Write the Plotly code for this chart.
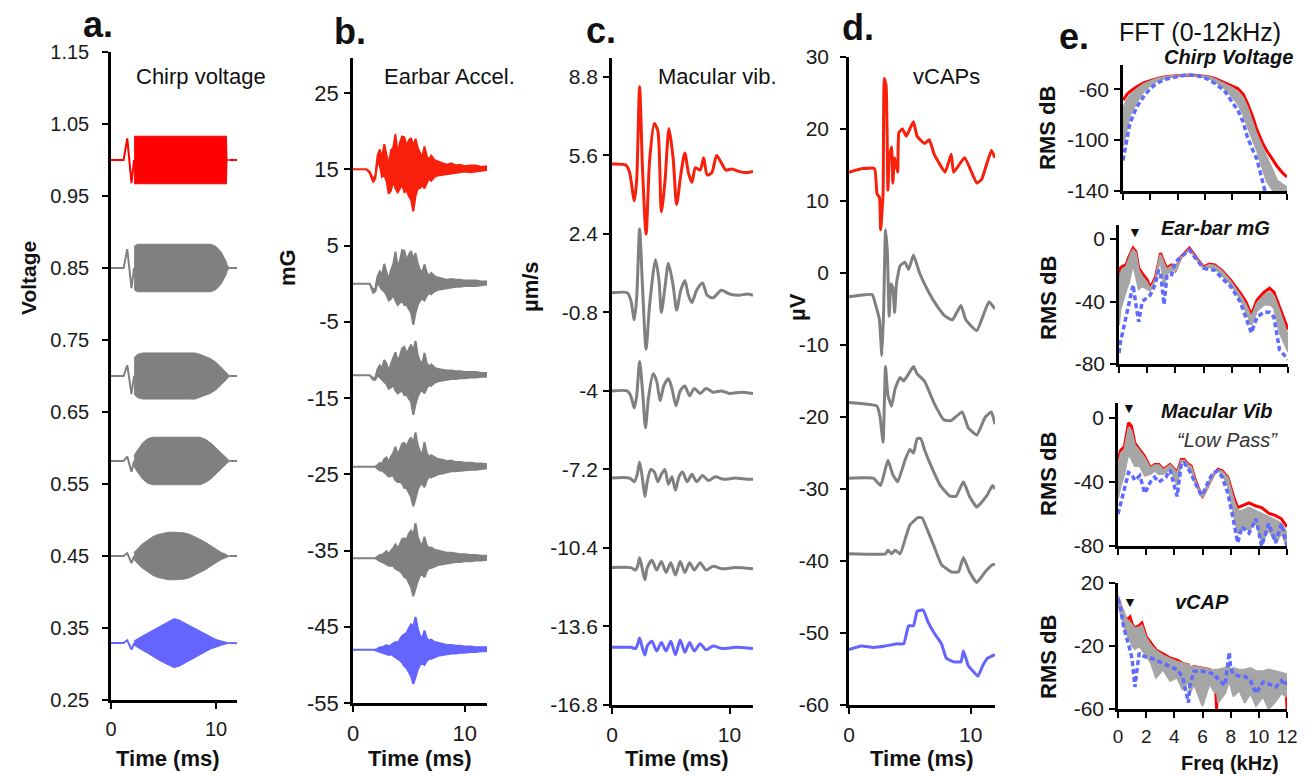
import plotly.graph_objects as go

W, H = 1314, 777
FONT = "Liberation Sans, Arial, sans-serif"
RED, GRAY, BLUE = "#FF0000", "#808080", "#6464FF"
RED2 = "#F8200A"

# ---------------- a. Chirp voltage (envelope of the dense chirp) ----------------
CHIRP_OFFSETS = [1.0, 0.85, 0.70, 0.582, 0.45, 0.329]
CHIRP_T = [2.2, 2.5, 3.0, 3.5, 4.0, 4.5, 5.0, 5.5, 6.0, 6.5, 7.0, 7.5, 8.0, 8.5,
           9.0, 9.5, 10.0, 10.5, 11.0, 11.05, 11.3]
CHIRP_ENV_RED = [0.033, 0.033, 0.033, 0.033, 0.033, 0.033, 0.033, 0.033, 0.033, 0.033, 0.033,
                 0.033, 0.033, 0.033, 0.033, 0.033, 0.033, 0.033, 0.033, 0.0, 0.0]
CHIRP_ENV_G1 = [0.03, 0.033, 0.033, 0.033, 0.033, 0.033, 0.033, 0.033, 0.033, 0.033, 0.033,
                0.033, 0.033, 0.033, 0.033, 0.033, 0.03, 0.022, 0.008, 0.004, 0.0]
CHIRP_ENV_G2 = [0.025, 0.03, 0.032, 0.032, 0.032, 0.032, 0.032, 0.032, 0.032, 0.032, 0.032,
                0.032, 0.032, 0.03, 0.027, 0.024, 0.019, 0.012, 0.005, 0.004, 0.0]
CHIRP_ENV_G3 = [0.008, 0.015, 0.025, 0.031, 0.033, 0.033, 0.033, 0.033, 0.033, 0.033, 0.033,
                0.033, 0.033, 0.033, 0.03, 0.025, 0.018, 0.011, 0.004, 0.003, 0.0]
CHIRP_ENV_G4 = [0.005, 0.01, 0.017, 0.022, 0.027, 0.03, 0.032, 0.033, 0.033, 0.033, 0.032,
                0.03, 0.027, 0.023, 0.019, 0.014, 0.009, 0.005, 0.002, 0.001, 0.0]
CHIRP_ENV_BLUE = [0.003, 0.006, 0.01, 0.014, 0.018, 0.023, 0.027, 0.031, 0.034, 0.032, 0.028,
                  0.024, 0.02, 0.016, 0.012, 0.008, 0.005, 0.003, 0.001, 0.001, 0.0]
CHIRP_LEAD_T = [0.0, 1.2, 1.55, 1.95, 2.2]
CHIRP_LEAD_RED = [0.0, 0.0, 0.03, -0.032, 0.0]
CHIRP_LEAD_G1 = [0.0, 0.0, 0.026, -0.028, 0.0]
CHIRP_LEAD_G2 = [0.0, 0.0, 0.015, -0.025, 0.0]
CHIRP_LEAD_G3 = [0.0, 0.0, 0.006, -0.015, 0.0]
CHIRP_LEAD_G4 = [0.0, 0.0, 0.004, -0.01, 0.0]
CHIRP_LEAD_BLUE = [0.0, 0.0, 0.004, -0.009, 0.0]

# ---------------- b. Earbar acceleration (upper / lower excursions) ----------------
EARBAR_OFFSETS = [15, 0, -12, -24, -36, -48]
EARBAR_T = [0, 1.2, 1.5, 1.8, 2.0, 2.2, 2.4, 2.6, 2.8, 3.0, 3.2, 3.4, 3.6, 3.8, 4.0, 4.2,
            4.4, 4.6, 4.8, 5.0, 5.2, 5.4, 5.6, 5.8, 6.0, 6.2, 6.4, 6.6, 6.8, 7.0, 7.3, 7.6,
            8.0, 8.4, 8.8, 9.2, 9.6, 10.0, 10.5, 11.0, 11.5, 12.0]
EARBAR_RED_HI = [0, 0, -0.3, -1.3, -0.8, 1.8, 2.6, 1.5, 3.3, 2.0, 0.5, 2.5, 2.8, 4.6, 2.0, 3.5,
                 4.3, 4.2, 3.0, 3.8, 4.1, 3.0, 4.0, 2.8, 2.2, 1.5, 3.0, 1.8, 1.2, 1.8, 1.2, 1.0,
                 0.8, 0.6, 0.8, 0.5, 0.6, 0.4, 0.5, 0.5, 0.3, 0.4]
EARBAR_RED_LO = [0, 0, -0.5, -1.7, -1.2, 1.0, 0.5, -1.0, -0.8, -1.5, -3.2, -2.8, -1.5, -2.5,
                 -3.0, -2.5, -2.0, -3.0, -2.8, -3.5, -4.0, -5.5, -3.5, -2.5, -2.5, -2.0, -2.5,
                 -1.8, -1.2, -1.5, -1.0, -0.8, -0.7, -0.6, -0.5, -0.4, -0.4, -0.3, -0.4, -0.3,
                 -0.2, -0.1]
EARBAR_G1_HI = [0, 0, 0, -0.8, -0.6, 1.0, 1.6, 1.2, 2.6, 1.5, 0.5, 1.8, 2.5, 4.2, 2.2, 3.0,
                4.4, 4.3, 3.0, 3.8, 4.3, 3.2, 4.0, 2.6, 1.8, 1.5, 2.5, 1.5, 1.0, 1.4, 1.0, 0.8,
                0.7, 0.5, 0.6, 0.5, 0.5, 0.4, 0.4, 0.4, 0.3, 0.3]
EARBAR_G1_LO = [0, 0, 0, -1.2, -1.0, 0.2, -0.3, -0.8, -1.0, -1.5, -2.2, -2.0, -1.5, -2.2,
                -2.8, -2.5, -2.2, -2.8, -2.8, -3.3, -3.8, -5.4, -3.8, -2.8, -2.2, -2.0, -2.2,
                -1.6, -1.2, -1.4, -1.0, -0.8, -0.7, -0.6, -0.5, -0.4, -0.4, -0.3, -0.3, -0.3,
                -0.2, -0.1]
EARBAR_G2_HI = [0, 0, 0, -0.4, -0.3, 0.8, 1.3, 0.9, 2.0, 1.5, 0.5, 1.5, 2.2, 3.0, 1.8, 2.5,
                3.5, 3.7, 2.8, 3.5, 4.0, 3.2, 4.5, 2.6, 1.8, 1.5, 2.9, 1.6, 1.1, 1.4, 1.0, 0.8,
                0.7, 0.6, 0.6, 0.5, 0.5, 0.4, 0.4, 0.4, 0.3, 0.3]
EARBAR_G2_LO = [0, 0, 0, -0.6, -0.6, 0.0, -0.4, -0.6, -0.9, -1.2, -1.8, -1.6, -1.3, -2.0,
                -2.4, -2.2, -2.0, -2.6, -2.6, -3.0, -3.5, -5.2, -3.8, -2.8, -2.2, -2.0, -2.4,
                -1.7, -1.3, -1.4, -1.0, -0.8, -0.7, -0.6, -0.5, -0.5, -0.4, -0.4, -0.3, -0.3,
                -0.2, -0.2]
EARBAR_G3_HI = [0, 0, 0, 0, 0, 0.2, 0.5, 0.4, 1.0, 1.2, 0.6, 1.3, 1.8, 2.6, 1.6, 2.2, 3.0,
                3.1, 2.6, 3.4, 3.8, 3.0, 4.5, 2.8, 2.0, 1.6, 3.2, 1.8, 1.3, 1.5, 1.2, 1.0, 0.9,
                0.7, 0.8, 0.6, 0.6, 0.5, 0.5, 0.4, 0.4, 0.3]
EARBAR_G3_LO = [0, 0, 0, 0, 0, -0.2, -0.5, -0.5, -0.8, -1.0, -1.3, -1.2, -1.2, -1.8, -2.0,
                -2.0, -2.2, -2.8, -2.8, -3.3, -4.0, -5.2, -4.2, -3.0, -2.4, -2.2, -2.7, -1.8,
                -1.3, -1.4, -1.2, -1.0, -0.9, -0.7, -0.6, -0.6, -0.5, -0.5, -0.4, -0.4, -0.3,
                -0.2]
EARBAR_G4_HI = [0, 0, 0, 0, 0, 0.2, 0.4, 0.4, 0.7, 0.9, 0.5, 1.0, 1.3, 1.8, 1.3, 1.8, 2.5,
                2.6, 2.4, 3.2, 3.6, 3.0, 4.6, 2.8, 2.0, 1.6, 2.8, 1.7, 1.3, 1.4, 1.1, 1.0, 0.8,
                0.7, 0.7, 0.6, 0.5, 0.5, 0.4, 0.4, 0.3, 0.3]
EARBAR_G4_LO = [0, 0, 0, 0, 0, -0.2, -0.4, -0.5, -0.6, -0.8, -1.0, -1.0, -1.0, -1.4, -1.6,
                -1.7, -2.0, -2.5, -2.6, -3.2, -3.8, -5.0, -4.0, -3.0, -2.3, -2.1, -2.5, -1.7,
                -1.3, -1.3, -1.1, -0.9, -0.8, -0.7, -0.6, -0.5, -0.5, -0.4, -0.4, -0.3, -0.3,
                -0.2]
EARBAR_BLUE_HI = [0, 0, 0, 0, 0, 0.1, 0.3, 0.3, 0.5, 0.6, 0.4, 0.6, 0.8, 1.0, 0.9, 1.4, 1.8,
                  2.0, 2.2, 2.8, 3.3, 3.0, 4.3, 2.8, 1.8, 1.5, 2.5, 1.5, 1.2, 1.3, 1.0, 0.9,
                  0.7, 0.6, 0.6, 0.5, 0.5, 0.4, 0.4, 0.3, 0.3, 0.3]
EARBAR_BLUE_LO = [0, 0, 0, 0, 0, -0.1, -0.3, -0.3, -0.5, -0.6, -0.7, -0.6, -0.7, -1.0, -1.2,
                  -1.4, -1.7, -2.2, -2.4, -2.9, -3.5, -4.5, -3.6, -2.6, -2.0, -1.8, -2.0,
                  -1.5, -1.2, -1.2, -1.0, -0.8, -0.7, -0.6, -0.5, -0.5, -0.4, -0.4, -0.3,
                  -0.3, -0.2, -0.2]

# ---------------- c. Macular vibration (µm/s) ----------------
MAC_RED_T = [0, 1.2, 1.5, 1.9, 2.1, 2.35, 2.6, 2.9, 3.2, 3.6, 3.9, 4.2, 4.5, 4.85, 5.2, 5.5,
             5.85, 6.2, 6.5, 6.8, 7.1, 7.5, 7.8, 8.1, 8.5, 8.9, 9.3, 9.7, 10.2, 10.8, 11.4, 12.0]
MAC_RED_V = [5.25, 5.2, 4.9, 3.75, 4.6, 8.4, 5.0, 2.4, 5.4, 6.9, 6.6, 3.3, 4.5, 6.7, 5.5,
             3.6, 4.8, 5.7, 4.9, 4.5, 5.1, 5.0, 5.5, 4.8, 4.9, 5.6, 5.3, 5.0, 5.05, 4.95,
             4.9, 4.95]
MAC_G1_T = [0, 1.3, 1.6, 1.9, 2.1, 2.35, 2.6, 2.9, 3.2, 3.7, 4.0, 4.2, 4.5, 4.8, 5.2, 5.5,
            5.85, 6.2, 6.5, 6.8, 7.2, 7.7, 8.1, 8.6, 9.3, 10.0, 10.8, 11.5, 12.0]
MAC_G1_V = [0, 0, -0.3, -1.1, -0.2, 2.6, 0.2, -2.3, -0.5, 1.35, 0.5, -0.8, 0.2, 1.2, 0.3,
            -0.7, 0.1, 0.5, -0.1, -0.4, 0.1, 0.4, -0.1, -0.2, 0.1, -0.05, -0.1, -0.05, -0.1]
MAC_G2_T = [0, 1.3, 1.6, 1.9, 2.1, 2.35, 2.6, 2.85, 3.1, 3.5, 3.8, 4.1, 4.4, 4.8, 5.1, 5.45,
            5.8, 6.2, 6.6, 7.0, 7.5, 8.0, 8.6, 9.3, 10.0, 11.0, 12.0]
MAC_G2_V = [-4, -4, -4.2, -4.7, -4.2, -2.8, -4.0, -5.5, -4.3, -3.3, -3.6, -4.4, -3.8, -3.5,
            -3.9, -4.6, -4.0, -3.8, -4.2, -3.9, -4.1, -3.9, -4.05, -4.0, -4.1, -4.05, -4.1]
MAC_G3_T = [0, 1.5, 1.9, 2.15, 2.35, 2.6, 2.8, 3.0, 3.3, 3.6, 3.9, 4.2, 4.5, 4.8, 5.1, 5.4,
            5.7, 6.0, 6.4, 6.8, 7.2, 7.7, 8.2, 8.8, 9.5, 10.5, 11.5, 12.0]
MAC_G3_V = [-7.55, -7.55, -7.7, -7.4, -6.9, -7.6, -8.3, -7.7, -7.2, -7.3, -7.7, -7.4, -7.2,
            -7.8, -7.5, -8.05, -7.5, -7.3, -7.7, -7.4, -7.7, -7.45, -7.65, -7.5, -7.6, -7.55,
            -7.6, -7.6]
MAC_G4_T = [0, 1.6, 2.0, 2.2, 2.35, 2.6, 2.8, 3.0, 3.4, 3.8, 4.2, 4.6, 5.0, 5.4, 5.8, 6.2,
            6.6, 7.0, 7.5, 8.0, 8.6, 9.4, 10.5, 12.0]
MAC_G4_V = [-11.2, -11.2, -11.3, -11.1, -10.8, -11.3, -11.7, -11.2, -10.9, -11.3, -10.95,
            -11.4, -11.0, -11.5, -10.95, -11.4, -11.0, -11.3, -11.0, -11.3, -11.15, -11.25,
            -11.2, -11.25]
MAC_BLUE_T = [0, 1.6, 2.0, 2.2, 2.35, 2.6, 2.8, 3.0, 3.4, 3.8, 4.2, 4.6, 5.0, 5.4, 5.8, 6.2,
              6.6, 7.0, 7.5, 8.0, 8.6, 9.4, 10.5, 12.0]
MAC_BLUE_V = [-14.45, -14.45, -14.5, -14.3, -14.07, -14.5, -14.76, -14.4, -14.2, -14.6,
              -14.25, -14.6, -14.2, -14.75, -14.15, -14.65, -14.25, -14.6, -14.3, -14.55,
              -14.4, -14.5, -14.45, -14.5]

# ---------------- d. vCAPs (µV) ----------------
VCAP_RED_T = [0, 1.15, 2.1, 2.3, 2.5, 2.6, 2.8, 2.9, 3.05, 3.2, 3.3, 3.5, 3.6, 3.75, 4.0,
              4.1, 4.4, 4.7, 5.0, 5.3, 5.6, 6.2, 6.6, 7.0, 7.9, 8.4, 8.6, 9.5, 10.5, 10.9,
              11.7, 12.0]
VCAP_RED_V = [14, 14.5, 14.5, 11, 10.5, 6, 11, 27, 26, 11.5, 16, 17.5, 12.5, 16, 14, 19.5,
              20, 19, 20, 21, 19, 18, 18.5, 16.5, 14, 16.5, 14, 16, 12.5, 13, 17, 16]
VCAP_G1_T = [0, 1.9, 2.2, 2.5, 2.7, 2.85, 3.0, 3.15, 3.3, 3.45, 3.6, 3.75, 3.9, 4.2, 4.6,
             4.9, 5.3, 5.8, 6.5, 7.2, 7.9, 8.5, 9.2, 9.6, 10.5, 11.5, 12.0]
VCAP_G1_V = [-3.3, -3.0, -4.5, -6.5, -11.5, -5, 6, 3, -6, -1.5, -2, -5.5, -1.5, 1, 1.5,
             0.5, 2.5, 0, -2.5, -4.5, -6, -6.5, -4.5, -6.5, -8, -4, -5]
VCAP_G2_T = [0, 2.3, 2.55, 2.8, 3.0, 3.2, 3.5, 3.8, 4.2, 4.5, 4.9, 5.3, 5.6, 6.2, 7.0,
             7.8, 8.4, 9.3, 9.8, 10.5, 11.2, 11.7, 12.0]
VCAP_G2_V = [-18, -18.5, -20, -23.5, -13, -17, -18.5, -16, -14.5, -15, -14, -13, -14, -15,
             -18.1, -20.4, -20.5, -19.3, -21.5, -22.5, -20, -19.3, -21]
VCAP_G3_T = [0, 2.0, 2.6, 3.2, 3.6, 4.0, 4.6, 5.0, 5.3, 5.6, 5.9, 6.2, 6.8, 7.5, 8.3, 8.8,
             9.4, 9.9, 10.5, 11.3, 11.8, 12.0]
VCAP_G3_V = [-28.5, -28.5, -29.5, -26, -28, -29, -26, -24.5, -25, -23, -23, -24.5, -27,
             -29.5, -31, -31, -29, -31, -32.5, -31, -29.5, -30]
VCAP_G4_T = [0, 3.0, 3.2, 3.5, 3.8, 4.2, 4.7, 5.0, 5.3, 5.6, 6.0, 6.4, 7.0, 7.6, 8.4, 9.0,
             9.4, 9.9, 10.5, 11.2, 11.8, 12.0]
VCAP_G4_V = [-39, -39, -38.5, -39, -38.5, -39, -36.5, -35, -34.5, -34, -34, -35.5, -38,
             -40.5, -41.5, -41.5, -39.5, -41.5, -43, -41.5, -40.5, -40.5]
VCAP_BLUE_T = [0, 1.0, 2.0, 3.0, 4.0, 4.5, 4.9, 5.3, 5.6, 6.1, 6.5, 7.0, 7.6, 8.0, 8.6, 9.2,
               9.4, 9.8, 10.3, 10.6, 11.0, 11.4, 12.0]
VCAP_BLUE_V = [-52.3, -51.8, -52, -51.8, -51.5, -51.5, -49, -49, -47, -46.8, -48.5, -50,
               -51.5, -53.5, -54, -54, -52.5, -54.5, -55.5, -56, -54.5, -53.5, -53]

# ---------------- e. FFT spectra (dB) ----------------
FFT1_F = [0, 0.3, 0.5, 1.0, 1.5, 2.0, 2.5, 3.2, 4.0, 4.5, 5.0, 5.5, 6.2, 6.8, 7.4, 8.0, 8.4,
          8.8, 9.1, 9.5, 9.8, 10.2, 10.5, 11.0, 11.3, 11.7, 12.0]
FFT1_RED = [-68.6, -64, -62, -58, -55, -53, -51.5, -50, -49.2, -49, -49, -49.2, -50, -52,
            -54.5, -57.5, -59.5, -64, -71, -82, -92, -102, -108, -116, -121, -126, -129]
FFT1_GRAY_HI = [-75, -68, -65, -60, -56, -53.5, -51.5, -50, -49.2, -49, -49, -49.2, -50,
                -52.5, -55.5, -59, -62, -67, -74, -86, -96, -106, -113, -125, -132, -135, -137]
FFT1_GRAY_LO = [-105, -90, -81, -70, -62, -57, -53.5, -51, -49.5, -49, -49, -49.5, -51,
                -54.5, -59, -66, -71.5, -80, -89, -100, -108, -122, -132, -140, -140, -140, -140]
FFT1_BLUE = [-116, -97, -87, -74, -66, -59.5, -55, -52, -50, -49, -48.8, -49.5, -52, -56,
             -61, -70, -76.5, -86, -97.6, -108, -115, -132, -145, -150, -150, -150, -150]

FFT2_F = [0, 0.1, 0.25, 0.5, 0.7, 0.85, 1.0, 1.2, 1.4, 1.65, 2.0, 2.2, 2.4, 2.6, 2.8, 2.95,
          3.2, 3.4, 3.7, 4.0, 4.4, 5.0, 5.5, 6.0, 6.4, 6.8, 7.3, 7.9, 8.6, 9.0, 9.4, 9.8,
          10.3, 10.7, 11.0, 11.4, 12.0]
FFT2_RED = [-30.7, -18.6, -17.5, -16.6, -11.5, -8, -5.8, -8, -18.6, -22, -26, -30.7, -28,
            -24, -14, -9, -15, -18.6, -16.6, -20, -11.5, -5.8, -12, -17.9, -16, -16.6, -20,
            -26, -34.5, -40, -48.5, -39, -34, -31.5, -34, -43.5, -58]
FFT2_GRAY_HI = [-33, -22, -19, -18, -13, -9, -7, -9, -20, -24, -28, -32, -29, -25, -15, -10,
                -16, -19.5, -17.5, -20.5, -12, -6.5, -12.5, -18.5, -16.5, -17, -20.5, -27,
                -36, -42, -50, -41, -36, -34, -36.5, -46, -62]
FFT2_GRAY_LO = [-55, -45, -40, -33, -28, -22, -16, -24, -32, -30, -32, -33, -30, -26, -17,
                -14, -30, -22, -21, -17, -12, -6.5, -12.5, -18.5, -18, -18.5, -23, -28.5,
                -38, -46, -55, -46, -42, -42, -44, -60, -72]
FFT2_BLUE = [-73, -66, -60, -50, -42, -36, -29.4, -42, -53, -40, -37.6, -36, -32.6, -28,
             -20, -22, -42, -24, -24, -14.7, -11.5, -7, -13, -18.6, -19.5, -20, -25, -30,
             -40, -50, -60, -50, -46.7, -47, -50, -71, -77]

FFT3_F = [0, 0.2, 0.45, 0.6, 0.75, 0.95, 1.2, 1.55, 1.9, 2.3, 2.6, 2.9, 3.2, 3.4, 3.7, 4.2,
          4.5, 4.7, 5.0, 5.2, 5.5, 5.9, 6.0, 6.3, 6.5, 6.8, 7.1, 7.4, 7.8, 8.2, 8.5, 8.8,
          9.3, 9.8, 10.2, 10.7, 11.2, 11.6, 12.0]
FFT3_RED = [-26, -20, -18, -10, -3, -5, -15.6, -20, -24, -31, -29, -29, -32, -31, -29, -34,
            -26, -26, -29, -30, -39, -48, -49, -44, -40, -35, -32, -33, -37, -49, -56, -55,
            -53, -55, -56, -59.5, -61, -63, -68]
FFT3_GRAY_HI = [-30, -22, -20, -13, -6, -8, -17, -21, -25, -31.5, -29.5, -29.5, -32.5,
                -31.5, -29.5, -34.5, -26.5, -26.5, -29.5, -30.5, -39.5, -48.5, -49, -44.5,
                -40.5, -35.5, -32.5, -33.5, -37.5, -51, -58, -58, -56, -58, -60, -62, -64,
                -66, -72]
FFT3_GRAY_LO = [-50, -42, -35, -28, -22, -25, -30, -30, -36, -35, -33, -35, -35, -34, -31,
                -42, -27.5, -27.5, -31, -33, -40, -48, -48.5, -43, -39, -34.5, -32.5, -35,
                -42, -60, -72, -68, -70, -65, -78, -70, -78, -72, -80]
FFT3_BLUE = [-60, -53, -43, -38, -34, -35, -39, -36, -47, -40, -37, -40, -38, -37, -32.5,
             -49, -28, -28, -32, -35, -41, -48, -48, -42, -38, -34, -33, -37, -47, -64, -78,
             -68, -72, -63, -80, -66, -78, -66, -80]

FFT4_F = [0, 0.2, 0.4, 0.6, 0.85, 1.0, 1.2, 1.5, 1.7, 2.0, 2.3, 2.7, 3.2, 3.7, 4.2, 4.6,
          5.0, 5.1, 5.4, 6.0, 6.5, 6.9, 7.0, 7.1, 7.6, 7.9, 8.0, 8.2, 8.6, 9.0, 9.4, 9.8,
          10.3, 10.7, 11.2, 11.6, 11.9, 12.0]
FFT4_RED = [10.5, 5, 0, -3.5, -1.5, -6, -8.6, -7, -5.4, -14, -18, -22.5, -25, -27.6, -29,
            -31, -32, -45, -33, -34, -35, -40, -60, -36, -35, -36, -40, -36, -36, -37, -36,
            -38, -38, -39, -38, -40, -41, -60]
FFT4_GRAY_HI = [12, 6, 2, -3, -5, -7, -9, -8, -7, -15, -19, -23, -26, -28, -30, -31, -32,
                -33, -33, -34, -35, -35, -35, -35, -34, -33, -35, -34, -35, -35, -34, -36,
                -36, -35, -36, -37, -38, -38]
FFT4_GRAY_LO = [8, 0, -6, -12, -16, -20, -22, -20, -22, -26, -30, -40, -35, -42, -40, -48,
                -42, -50, -44, -58, -44, -50, -46, -56, -50, -42, -45, -52, -48, -56, -50,
                -58, -52, -60, -55, -50, -52, -48]
FFT4_BLUE = [10, 2.8, -8, -14, -22.5, -28, -46, -24.6, -26, -27, -27.6, -29, -30.8, -33,
             -35, -40, -56, -45, -36, -36, -37, -38, -40, -41, -45, -24, -34, -38, -39,
             -39.3, -42, -50, -43, -44, -46, -42, -45, -42.5]

# ---------------- layout helpers (pixel boxes of each axis) ----------------
def xdom(left, right):
    return [left / W, right / W]


def ydom(top, bottom):
    return [1 - bottom / H, 1 - top / H]


fig = go.Figure()


def add_band(t, lo, hi, color, ax, width=1.0):
    xs = list(t) + list(t)[::-1]
    ys = list(hi) + list(lo)[::-1]
    fig.add_trace(go.Scatter(x=xs, y=ys, mode="lines", fill="toself", fillcolor=color,
                             line=dict(color=color, width=width), hoverinfo="skip",
                             showlegend=False, xaxis="x" + ax, yaxis="y" + ax))


def add_line(t, v, color, ax, width=2.5, dash=None, smooth=None):
    line = dict(color=color, width=width, dash=dash)
    if smooth:
        line.update(shape="spline", smoothing=smooth)
    fig.add_trace(go.Scatter(x=t, y=v, mode="lines", line=line,
                             hoverinfo="skip", showlegend=False,
                             xaxis="x" + ax, yaxis="y" + ax))


# a. chirp voltage
chirp_envs = [CHIRP_ENV_RED, CHIRP_ENV_G1, CHIRP_ENV_G2, CHIRP_ENV_G3, CHIRP_ENV_G4, CHIRP_ENV_BLUE]
chirp_leads = [CHIRP_LEAD_RED, CHIRP_LEAD_G1, CHIRP_LEAD_G2, CHIRP_LEAD_G3, CHIRP_LEAD_G4,
               CHIRP_LEAD_BLUE]
colors6 = [RED, GRAY, GRAY, GRAY, GRAY, BLUE]
for off, env, lead, col in zip(CHIRP_OFFSETS, chirp_envs, chirp_leads, colors6):
    add_band(CHIRP_T, [off - e for e in env], [off + e for e in env], col, "", 1.0)
    add_line(CHIRP_LEAD_T + [None, CHIRP_T[-1], 12.0],
             [off + d for d in lead] + [None, off, off], col, "", 2.0)

# b. earbar acceleration
eb_hi = [EARBAR_RED_HI, EARBAR_G1_HI, EARBAR_G2_HI, EARBAR_G3_HI, EARBAR_G4_HI, EARBAR_BLUE_HI]
eb_lo = [EARBAR_RED_LO, EARBAR_G1_LO, EARBAR_G2_LO, EARBAR_G3_LO, EARBAR_G4_LO, EARBAR_BLUE_LO]
colors6b = [RED2, GRAY, GRAY, GRAY, GRAY, BLUE]
for off, hi, lo, col in zip(EARBAR_OFFSETS, eb_hi, eb_lo, colors6b):
    add_band(EARBAR_T, [off + v for v in lo], [off + v for v in hi], col, "2", 2.0)

# c. macular vibration
for t, v, col in [(MAC_RED_T, MAC_RED_V, RED2), (MAC_G1_T, MAC_G1_V, GRAY),
                  (MAC_G2_T, MAC_G2_V, GRAY), (MAC_G3_T, MAC_G3_V, GRAY),
                  (MAC_G4_T, MAC_G4_V, GRAY), (MAC_BLUE_T, MAC_BLUE_V, BLUE)]:
    add_line(t, v, col, "3", 3.0, smooth=0.7)

# d. vCAPs
for t, v, col in [(VCAP_RED_T, VCAP_RED_V, RED2), (VCAP_G1_T, VCAP_G1_V, GRAY),
                  (VCAP_G2_T, VCAP_G2_V, GRAY), (VCAP_G3_T, VCAP_G3_V, GRAY),
                  (VCAP_G4_T, VCAP_G4_V, GRAY), (VCAP_BLUE_T, VCAP_BLUE_V, BLUE)]:
    add_line(t, v, col, "4", 3.0, smooth=0.4)

# e. spectra
spectra = [
    ("5", FFT1_F, FFT1_RED, FFT1_GRAY_LO, FFT1_GRAY_HI, FFT1_BLUE),
    ("6", FFT2_F, FFT2_RED, FFT2_GRAY_LO, FFT2_GRAY_HI, FFT2_BLUE),
    ("7", FFT3_F, FFT3_RED, FFT3_GRAY_LO, FFT3_GRAY_HI, FFT3_BLUE),
    ("8", FFT4_F, FFT4_RED, FFT4_GRAY_LO, FFT4_GRAY_HI, FFT4_BLUE),
]
for ax, f, red, glo, ghi, blue in spectra:
    add_line(f, red, RED, ax, 3.0)
    add_band(f, glo, ghi, "#A6A6A6", ax, 2.0)
    add_line(f, blue, "#5F6BFF", ax, 3.5, dash="5px,3px")

# ---------------- axes ----------------
axis_common = dict(showline=True, linecolor="black", linewidth=2.5, ticks="outside",
                   ticklen=6, tickwidth=2, tickcolor="black", showgrid=False, zeroline=False,
                   fixedrange=True, automargin=False)

# pixel box, y range, tick font size, y tick-label standoff
boxes = {
    "": ((111, 237), (52, 700), [0.25, 1.15], 20, 9),
    "2": ((353, 487), (58, 703), [-55, 29.6], 22, 1),
    "3": ((612, 753), (58, 705), [-16.8, 9.57], 21, 1),
    "4": ((849, 995), (57, 705), [-60, 30], 21, 7),
    "5": ((1123, 1287), (65, 191), [-140, -41], 21, 1),
    "6": ((1119, 1288), (225, 364), [-80, 9], 21, 1),
    "7": ((1118, 1287), (403, 546), [-80, 9.4], 21, 1),
    "8": ((1118, 1287), (583, 709), [-60, 20], 21, 1),
}
yticks = {
    "": ([0.25, 0.35, 0.45, 0.55, 0.65, 0.75, 0.85, 0.95, 1.05, 1.15],
         ["0.25", "0.35", "0.45", "0.55", "0.65", "0.75", "0.85", "0.95", "1.05", "1.15"]),
    "2": ([-55, -45, -35, -25, -15, -5, 5, 15, 25],
          ["-55", "-45", "-35", "-25", "-15", "-5", "5", "15", "25"]),
    "3": ([-16.8, -13.6, -10.4, -7.2, -4, -0.8, 2.4, 5.6, 8.8],
          ["-16.8", "-13.6", "-10.4", "-7.2", "-4", "-0.8", "2.4", "5.6", "8.8"]),
    "4": ([-60, -50, -40, -30, -20, -10, 0, 10, 20, 30],
          ["-60", "-50", "-40", "-30", "-20", "-10", "0", "10", "20", "30"]),
    "5": ([-140, -100, -60], ["-140", "-100", "-60"]),
    "6": ([-80, -40, 0], ["-80", "-40", "0"]),
    "7": ([-80, -40, 0], ["-80", "-40", "0"]),
    "8": ([-60, -20, 20], ["-60", "-20", "20"]),
}
layout_axes = {}
for ax, ((xl, xr), (yt, yb), yr, fs, ystand) in boxes.items():
    is_fft = ax in ("5", "6", "7", "8")
    tickfont = dict(family=FONT, size=fs, color="#1a1a1a")
    xa = dict(axis_common, domain=xdom(xl, xr), range=[0, 12], anchor="y" + ax,
              tickfont=tickfont, ticklabelstandoff=3)
    if is_fft:
        xa.update(tickvals=[0, 2, 4, 6, 8, 10, 12], showticklabels=(ax == "8"),
                  tickfont=dict(family=FONT, size=19, color="#1a1a1a"), ticklabelstandoff=2)
    else:
        xa.update(tickvals=[0, 10], ticktext=["0", "10"])
    ya = dict(axis_common, domain=ydom(yt, yb), range=yr, anchor="x" + ax,
              tickvals=yticks[ax][0], ticktext=yticks[ax][1], tickfont=tickfont,
              ticklabelstandoff=ystand)
    layout_axes["xaxis" + ax] = xa
    layout_axes["yaxis" + ax] = ya

fig.update_layout(width=W, height=H,
                  margin=dict(l=0, r=0, t=0, b=0, pad=0, autoexpand=False),
                  paper_bgcolor="white", plot_bgcolor="white", showlegend=False,
                  **layout_axes)

# ---------------- text ----------------
def label(text, px, py, size, bold=False, italic=False, angle=0, color="#111111"):
    if bold:
        text = "<b>" + text + "</b>"
    if italic:
        text = "<i>" + text + "</i>"
    fig.add_annotation(text=text, x=px / W, y=1 - py / H, xref="paper", yref="paper",
                       showarrow=False, xanchor="center", yanchor="middle", textangle=angle,
                       font=dict(family=FONT, size=size, color=color))


for txt, px, py in [("a.", 98, 24), ("b.", 350, 32), ("c.", 601, 31), ("d.", 858, 28),
                    ("e.", 1074, 36)]:
    label(txt, px, py, 36, bold=True)

label("Chirp voltage", 201, 77, 22)
label("Earbar Accel.", 449, 77, 22)
label("Macular vib.", 717, 77, 22)
label("vCAPs", 946, 77, 22)
label("FFT (0-12kHz)", 1200, 32, 25)

label("Voltage", 28, 278, 21, bold=True, angle=-90)
label("mG", 287, 268, 22, bold=True, angle=-90)
label("\u00b5m/s", 530, 287, 22, bold=True, angle=-90)
label("\u00b5V", 797, 307, 22, bold=True, angle=-90)

for px in (168, 420, 677, 922):
    label("Time (ms)", px, 758, 22, bold=True)
label("Freq (kHz)", 1230, 763, 20, bold=True)

for py in (128, 298, 474, 657):
    label("RMS dB", 1048, py, 22, bold=True, angle=-90)

label("Chirp Voltage", 1228, 57, 20, bold=True, italic=True)
label("Ear-bar mG", 1215, 228, 20, bold=True, italic=True)
label("Macular Vib", 1217, 411, 20, bold=True, italic=True)
label("\u201cLow Pass\u201d", 1227, 440, 20, italic=True, color="#333333")
label("vCAP", 1202, 602, 20, bold=True, italic=True)

for px, py in [(1135, 232), (1129, 408), (1130, 602)]:
    label("\u25bc", px, py, 14)

fig.write_html("out.html")
